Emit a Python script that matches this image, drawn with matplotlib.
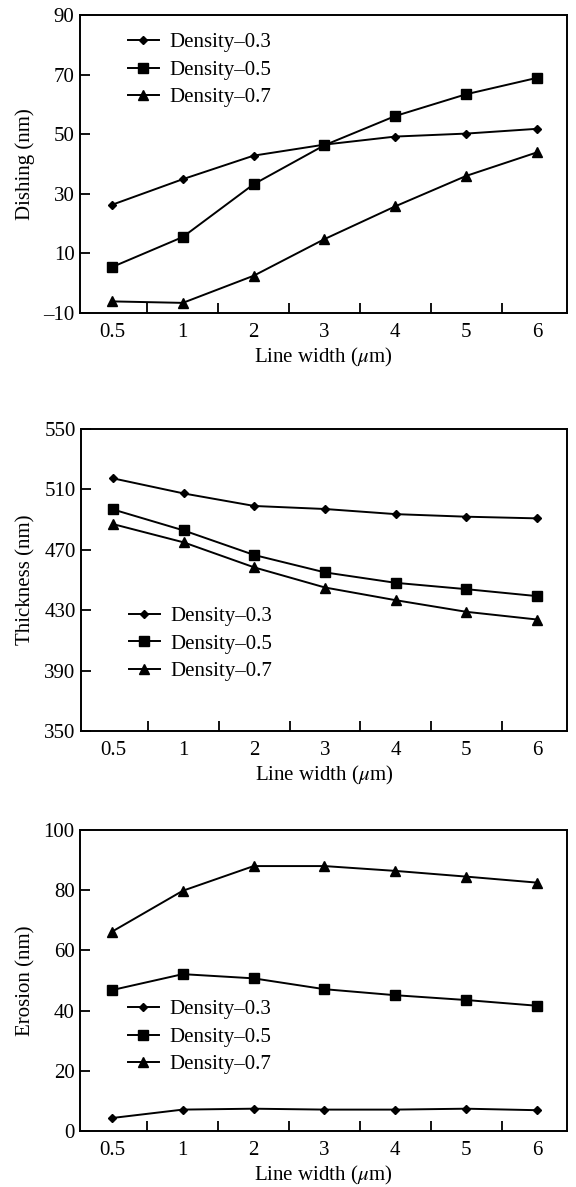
import numpy as np
import matplotlib
matplotlib.use("Agg")
import matplotlib.pyplot as plt

plt.rcParams['font.family'] = ['Liberation Serif', 'DejaVu Serif']
plt.rcParams['mathtext.fontset'] = 'stix'
plt.rcParams['axes.unicode_minus'] = False

# data
line_widths = ['0.5', '1', '2', '3', '4', '5', '6']
series_names = ['Density\u20130.3', 'Density\u20130.5', 'Density\u20130.7']

dishing_03 = [26.3, 34.9, 42.8, 46.5, 49.2, 50.2, 51.8]
dishing_05 = [5.4, 15.5, 33.2, 46.3, 56.1, 63.4, 68.9]
dishing_07 = [-6.1, -6.6, 2.5, 14.8, 25.8, 36.0, 43.9]

thick_03 = [517.3, 507.3, 499.0, 497.0, 493.6, 491.9, 490.8]
thick_05 = [496.7, 482.8, 466.5, 455.0, 448.1, 443.9, 439.3]
thick_07 = [487.0, 474.9, 458.3, 445.0, 436.6, 428.9, 423.8]

erosion_03 = [4.3, 7.1, 7.4, 7.1, 7.1, 7.4, 6.9]
erosion_05 = [46.8, 52.1, 50.7, 47.1, 45.1, 43.5, 41.6]
erosion_07 = [66.2, 79.8, 88.0, 88.0, 86.4, 84.5, 82.5]

panels = [
    ('Dishing (nm)', [dishing_03, dishing_05, dishing_07], (-10, 90), [-10, 10, 30, 50, 70, 90], 0.815),
    ('Thickness (nm)', [thick_03, thick_05, thick_07], (350, 550), [350, 390, 430, 470, 510, 550], 0.288),
    ('Erosion (nm)', [erosion_03, erosion_05, erosion_07], (0, 100), [0, 20, 40, 60, 80, 100], 0.312),
]
positions = [
    [0.139, 0.7363, 0.845, 0.2511],
    [0.141, 0.3842, 0.843, 0.2544],
    [0.139, 0.0472, 0.845, 0.2536],
]
markers = [('D', 4.5), ('s', 6.5), ('^', 7)]
fs = 15

fig = plt.figure(figsize=(5.76, 11.87), dpi=100)
x = np.arange(len(line_widths))

for (ylabel, data, ylim, yticks, leg_y), pos in zip(panels, positions):
    ax = fig.add_axes(pos)
    for vals, name, (m, ms) in zip(data, series_names, markers):
        ax.plot(x, vals, color='black', lw=1.4, marker=m, markersize=ms, label=name)
    ax.set_xlim(-0.45, 6.42)
    ax.set_ylim(*ylim)
    ax.set_yticks(yticks)
    ax.set_yticklabels([str(t).replace('-', '\u2013') for t in yticks], fontsize=fs)
    ax.set_xticks(x)
    ax.set_xticklabels(line_widths, fontsize=fs)
    ax.set_xticks(x[:-1] + 0.5, minor=True)
    ax.tick_params(axis='x', which='major', length=0, pad=7)
    ax.tick_params(axis='x', which='minor', direction='in', length=7.5, width=1.3)
    ax.tick_params(axis='y', which='major', direction='in', length=7.5, width=1.3, pad=4)
    for s in ax.spines.values():
        s.set_linewidth(1.4)
    ax.set_ylabel(ylabel, fontsize=fs, labelpad=6)
    ax.set_xlabel('Line width ($\\mu$m)', fontsize=fs, labelpad=3)
    ax.legend(loc='center left', bbox_to_anchor=(0.098, leg_y), frameon=False,
              fontsize=fs, borderpad=0, borderaxespad=0, handlelength=1.5,
              handletextpad=0.5, labelspacing=0.38)

fig.savefig('out.png', dpi=100)
